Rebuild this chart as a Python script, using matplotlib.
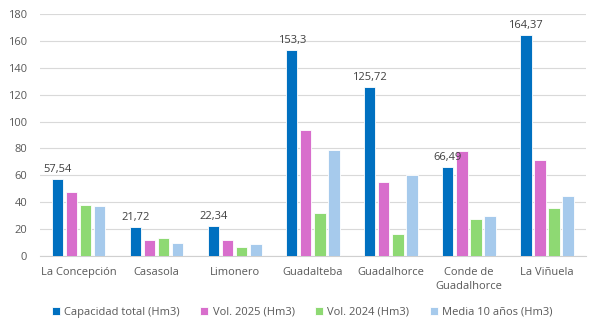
import numpy as np
import matplotlib
matplotlib.use("Agg")
import matplotlib.pyplot as plt

plt.rcParams['font.family'] = ['Open Sans', 'DejaVu Sans']

# datos de los embalses (Hm3)
embalses = ["La Concepción", "Casasola", "Limonero", "Guadalteba",
            "Guadalhorce", "Conde de\nGuadalhorce", "La Viñuela"]
capacidad = [57.54, 21.72, 22.34, 153.3, 125.72, 66.49, 164.37]
vol_2025 = [47.4, 11.7, 12.1, 93.8, 55.3, 78.1, 71.2]
vol_2024 = [37.9, 13.2, 6.7, 31.7, 16.4, 27.3, 36.0]
media_10 = [37.2, 9.7, 9.2, 78.9, 60.3, 30.0, 44.6]

series = [
    ("Capacidad total (Hm3)", capacidad, "#0070C0"),
    ("Vol. 2025 (Hm3)", vol_2025, "#D86ECC"),
    ("Vol. 2024 (Hm3)", vol_2024, "#8ED973"),
    ("Media 10 años (Hm3)", media_10, "#A6CAEC"),
]

fig = plt.figure(figsize=(6.01, 3.32), dpi=100)
ax = fig.add_axes([0.066, 0.229, 0.909, 0.729])

x = np.arange(len(embalses))
paso = 0.18
ancho = 0.145
for i, (nombre, vals, color) in enumerate(series):
    pos = x + (i - 1.5) * paso
    bars = ax.bar(pos, vals, width=ancho, color=color, edgecolor="white",
                  linewidth=0.6, label=nombre, zorder=3)
    if i == 0:
        for b, v in zip(bars, vals):
            txt = f"{v:g}".replace(".", ",")
            ax.text(b.get_x() + b.get_width() / 2, v + 3, txt, zorder=5,
                    ha="center", va="bottom", fontsize=8, color="#404040")

ax.set_ylim(0, 180)
ax.set_xlim(-0.5, len(embalses) - 0.5)
ax.set_yticks(range(0, 181, 20))
ax.set_xticks(x)
ax.set_xticklabels(embalses, fontsize=8, color="#595959", linespacing=1.35)
ax.tick_params(axis="y", labelsize=8, labelcolor="#595959", length=0, pad=9)
ax.tick_params(axis="x", length=0, pad=8)
ax.grid(axis="y", color="#D9D9D9", linewidth=0.8, zorder=0)
for s in ["top", "right", "left"]:
    ax.spines[s].set_visible(False)
ax.spines["bottom"].set_color("#D0D0D0")

fig.legend(loc="center", bbox_to_anchor=(0.503, 0.06), ncol=4, frameon=False,
           fontsize=8, labelcolor="#595959", handlelength=0.7, handleheight=0.7,
           handletextpad=0.4, columnspacing=1.85)

fig.savefig("out.png", dpi=100)
